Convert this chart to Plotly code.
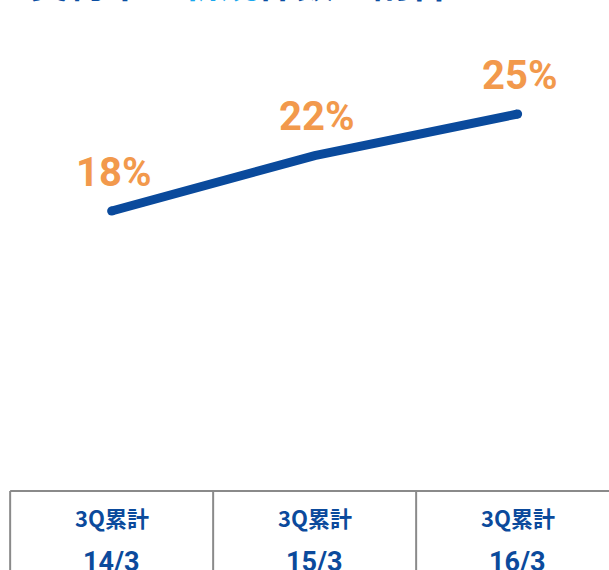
import plotly.graph_objects as go

periods = ["14/3", "15/3", "16/3"]
row_label = "3Q累計"
shares = [18, 22, 25]
share_labels = ["18%", "22%", "25%"]
title_parts = [("契約中の", "#0B4EA2"), ("新規", "#1AA8EE"), ("件数の割合", "#0B4EA2")]

W, H = 609, 570
xpos = list(range(len(periods)))

fig = go.Figure()
fig.add_trace(go.Scatter(
    x=xpos, y=shares, mode="lines",
    line=dict(color="#0A4A9C", width=9, shape="linear"),
    hoverinfo="skip", showlegend=False,
))
fig.add_trace(go.Scatter(
    x=[xpos[0], xpos[-1]], y=[shares[0], shares[-1]], mode="markers",
    marker=dict(color="#0A4A9C", size=9, line=dict(width=0)),
    hoverinfo="skip", showlegend=False,
))

for xi, v, lab in zip(xpos, shares, share_labels):
    fig.add_annotation(x=xi, y=v, text=lab, showarrow=False,
                       xref="x", yref="y", yshift=39, xshift=2,
                       font=dict(family="Roboto, Liberation Sans, Arial", size=40, color="#F2994C", weight="bold"))

def py(pix):
    return 1 - pix / H

border = "#8A8A8A"
fig.add_shape(type="line", xref="x", yref="paper", x0=-0.5, x1=len(periods) - 0.5,
              y0=py(491), y1=py(491), line=dict(color=border, width=2))
for i in range(len(periods) + 1):
    fig.add_shape(type="line", xref="x", yref="paper", x0=i - 0.5, x1=i - 0.5,
                  y0=py(491), y1=0, line=dict(color=border, width=2))
for xi, p in zip(xpos, periods):
    fig.add_annotation(x=xi, y=py(517), xref="x", yref="paper", text=row_label, showarrow=False,
                       yanchor="middle", xanchor="center",
                       font=dict(family="Noto Sans CJK JP", size=22, color="#0B4A9C", weight="bold"))
    fig.add_annotation(x=xi, y=py(562), xref="x", yref="paper", text=p, showarrow=False,
                       yanchor="middle", xanchor="center",
                       font=dict(family="Roboto, Liberation Sans", size=27, color="#0B4A9C", weight="bold"))

title_html = "".join(f"<span style='color:{c}'>{t}</span>" for t, c in title_parts)
fig.add_annotation(x=28 / W, y=1, xref="paper", yref="paper",
                   text=title_html, showarrow=False, xanchor="left", yanchor="middle",
                   yshift=20,
                   font=dict(family="Noto Sans CJK JP", size=38, weight="bold"))

ypx = (211 - 114) / 7.0
y_top = 18 + 211 / ypx
y_bot = 18 - (H - 211) / ypx

fig.update_layout(
    width=W, height=H,
    margin=dict(l=0, r=0, t=0, b=0),
    paper_bgcolor="white", plot_bgcolor="white",
    xaxis=dict(range=[-0.55, 2.45], visible=False, fixedrange=True),
    yaxis=dict(range=[y_bot, y_top], visible=False, fixedrange=True),
    showlegend=False,
)
fig.write_html("out.html", config={"displayModeBar": False},
               post_script="document.body.style.margin='0';document.body.style.overflow='hidden';")
